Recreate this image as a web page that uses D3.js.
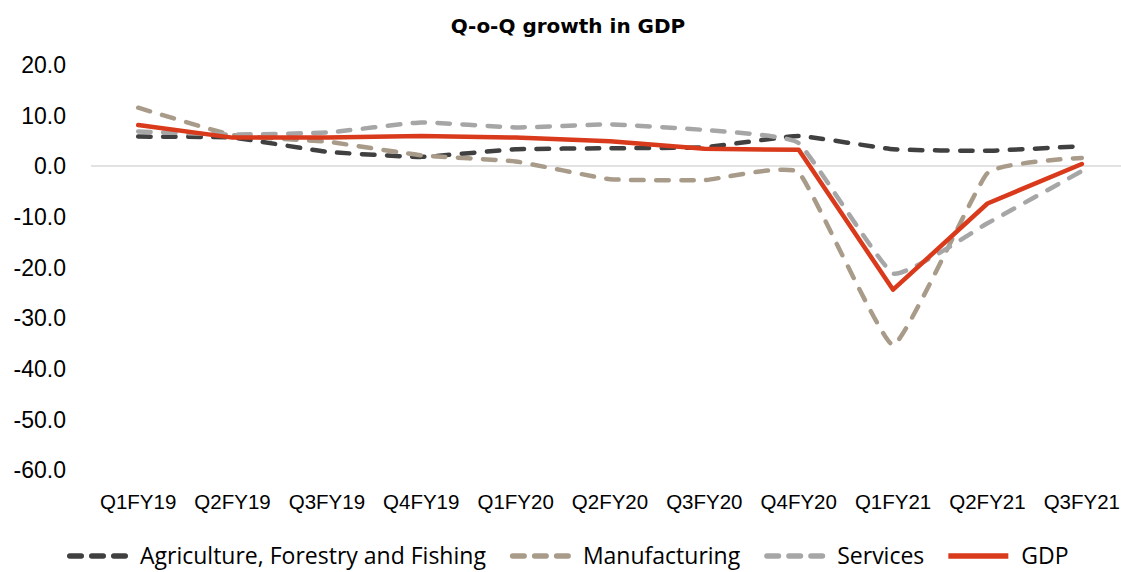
<!DOCTYPE html>
<html>
<head>
    <meta charset="utf-8">
    <script src="https://cdn.jsdelivr.net/npm/d3@7"></script>
    <title></title>
    <style>
        * {
            margin: 0;
            padding: 0;
        }

        body {
            background: white;
        }

        #chart {
            display: block;
        }
    </style>
</head>
<body>

    <svg id="chart" width="1121" height="572"></svg>

    <script>
        var quarters = ["Q1FY19", "Q2FY19", "Q3FY19", "Q4FY19", "Q1FY20", "Q2FY20", "Q3FY20", "Q4FY20", "Q1FY21", "Q2FY21", "Q3FY21"];
        var agriculture = [5.8, 5.6, 2.8, 1.8, 3.3, 3.5, 3.7, 5.9, 3.3, 3.0, 3.9];
        var manufacturing = [11.5, 6.1, 4.8, 2.1, 0.9, -2.6, -2.8, -1.3, -35.3, -1.4, 1.6];
        var services = [6.8, 6.2, 6.6, 8.6, 7.6, 8.2, 7.1, 4.5, -21.2, -11.3, -1.0];
        var gdp = [8.1, 5.6, 5.6, 5.9, 5.6, 4.9, 3.4, 3.2, -24.4, -7.4, 0.4];
        var yTicks = [20, 10, 0, -10, -20, -30, -40, -50, -60];

        var seriesNames = ["Agriculture, Forestry and Fishing", "Manufacturing", "Services", "GDP"];
        var seriesValues = [agriculture, manufacturing, services, gdp];
        var colors = ["#404040", "#a99b89", "#a6a6a6", "#d93a1b"];
        var dashed = [true, true, true, false];

        var chart = {};

        chart.svg = d3.select("#chart");

        chart.x = d3.scaleBand()
            .domain(quarters)
            .range([91, 1129]);

        chart.y = d3.scaleLinear()
            .domain([-60, 20])
            .range([470.2, 64.6]);

        // title
        chart.svg.append("text")
            .attr("x", 568)
            .attr("y", 33)
            .attr("text-anchor", "middle")
            .style("font-family", "'DejaVu Sans', sans-serif")
            .style("font-weight", "bold")
            .style("font-size", "20px")
            .style("fill", "#000")
            .text("Q-o-Q  growth in GDP");

        // y labels (no axis line)
        chart.svg.append("g")
            .selectAll("text")
            .data(yTicks)
            .enter()
            .append("text")
            .attr("x", 66)
            .attr("y", function (d) { return chart.y(d); })
            .attr("dy", "0.36em")
            .attr("text-anchor", "end")
            .style("font-family", "'Liberation Sans', Arial, sans-serif")
            .style("font-size", "23px")
            .style("fill", "#000")
            .text(function (d) { return d.toFixed(1); });

        // zero line
        chart.svg.append("line")
            .attr("x1", chart.x.range()[0])
            .attr("x2", chart.x.range()[1])
            .attr("y1", chart.y(0))
            .attr("y2", chart.y(0))
            .attr("stroke", "#d9d9d9")
            .attr("stroke-width", 1.5);

        // category labels
        chart.svg.append("g")
            .selectAll("text")
            .data(quarters)
            .enter()
            .append("text")
            .attr("x", function (d) { return chart.x(d) + chart.x.bandwidth() / 2; })
            .attr("y", 509)
            .attr("text-anchor", "middle")
            .style("font-family", "'Liberation Sans', Arial, sans-serif")
            .style("font-size", "20.5px")
            .style("fill", "#000")
            .text(function (d) { return d; });

        // lines
        chart.lineSmooth = d3.line()
            .x(function (d, i) { return chart.x(quarters[i]) + chart.x.bandwidth() / 2; })
            .y(function (d) { return chart.y(d); })
            .curve(d3.curveCardinal.tension(0.65));

        chart.lineStraight = d3.line()
            .x(function (d, i) { return chart.x(quarters[i]) + chart.x.bandwidth() / 2; })
            .y(function (d) { return chart.y(d); });

        chart.svg.append("g")
            .selectAll("path")
            .data(seriesValues)
            .enter()
            .append("path")
            .attr("d", function (d, i) { return dashed[i] ? chart.lineSmooth(d) : chart.lineStraight(d); })
            .attr("fill", "none")
            .attr("stroke", function (d, i) { return colors[i]; })
            .attr("stroke-width", 4.5)
            .attr("stroke-dasharray", function (d, i) { return dashed[i] ? "12.5,12.5" : null; })
            .attr("stroke-linecap", "round")
            .attr("stroke-linejoin", "round");

        // legend
        chart.legend = chart.svg.append("g");
        var lx = 67;
        seriesNames.forEach(function (name, i) {
            var item = chart.legend.append("g");
            item.append("line")
                .attr("x1", dashed[i] ? lx + 2.75 : lx)
                .attr("x2", lx + 60)
                .attr("y1", 556)
                .attr("y2", 556)
                .attr("stroke", colors[i])
                .attr("stroke-width", 5.5)
                .attr("stroke-linecap", dashed[i] ? "round" : "butt")
                .attr("stroke-dasharray", dashed[i] ? "11.5,10.5" : null);
            var t = item.append("text")
                .attr("x", lx + 73)
                .attr("y", 556)
                .attr("dy", "0.36em")
                .style("font-family", "'Open Sans', sans-serif")
                .style("font-size", "23px")
                .style("fill", "#000")
                .text(name);
            lx = lx + 73 + t.node().getComputedTextLength() + 24;
        });
    </script>
</body>
</html>
